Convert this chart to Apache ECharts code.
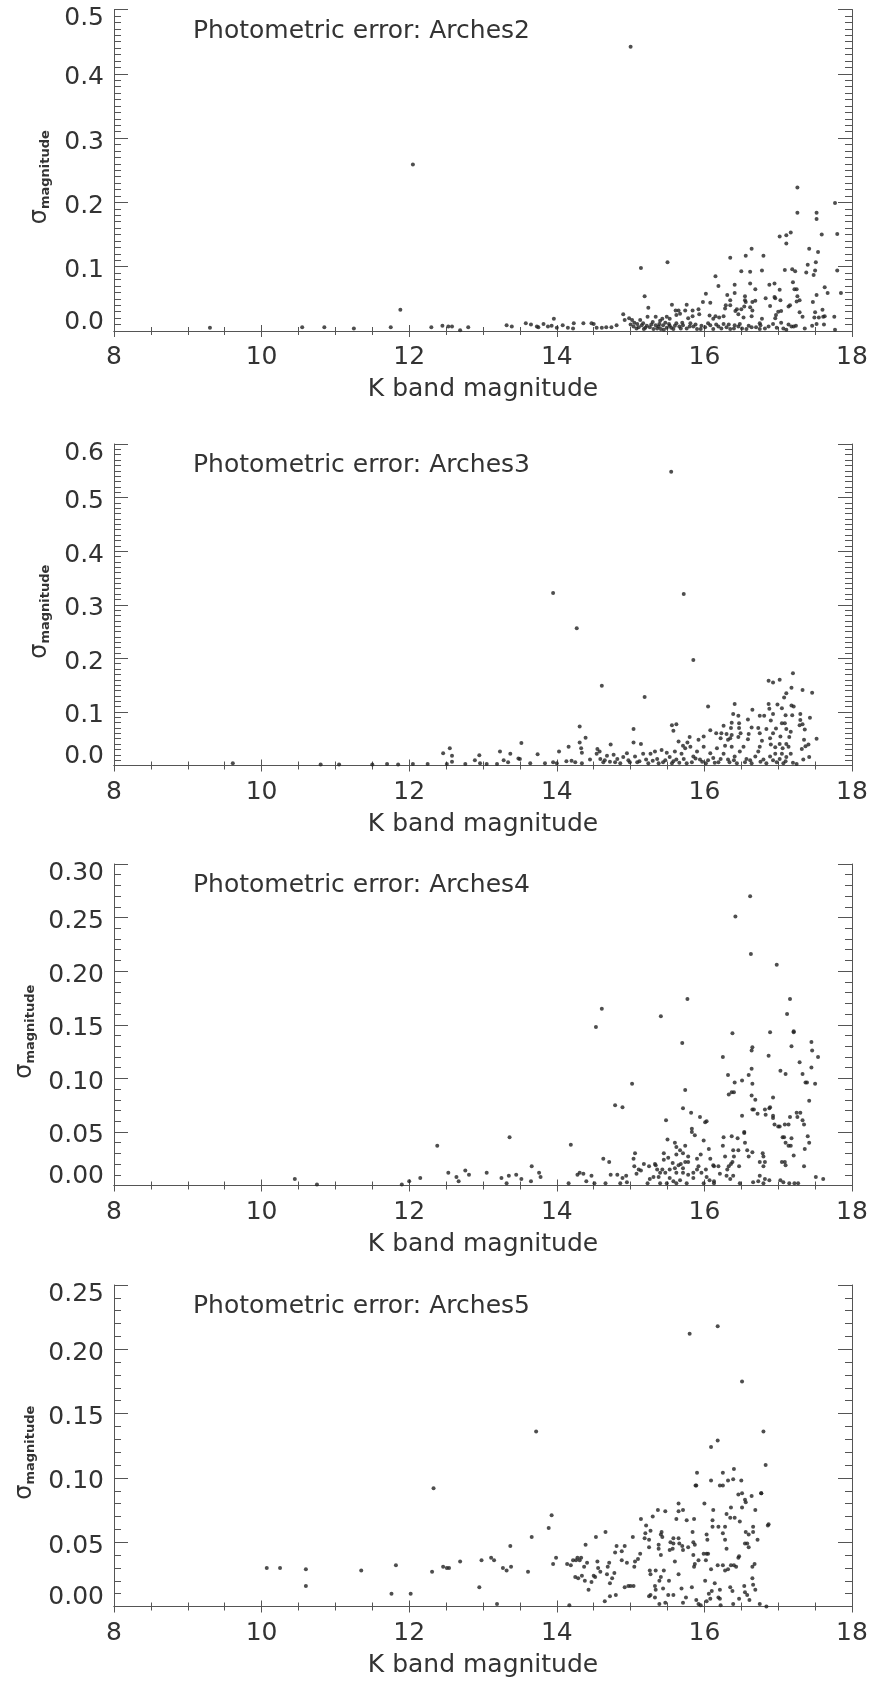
<!DOCTYPE html>
<html>
<head>
<meta charset="utf-8">
<script src="https://cdn.jsdelivr.net/npm/echarts@6/dist/echarts.min.js"></script>
<style>
html,body{margin:0;padding:0;background:#fff;}
#chart{width:871px;height:1686px;}
</style>
</head>
<body>
<div id="chart"></div>
<script>
// ---------------- DATA ----------------
const panelNames = ['Arches2', 'Arches3', 'Arches4', 'Arches5'];
const xTicks = [8, 10, 12, 14, 16, 18];
const yMaxes = [0.5, 0.6, 0.3, 0.25];
const yIntervals = [0.1, 0.1, 0.05, 0.05];
const yDecimals = [1, 1, 2, 2];

const arches2 = [
[9.30,0.005],[10.55,0.006],[10.85,0.006],[11.25,0.004],[11.75,0.006],[11.88,0.033],[12.05,0.259],[12.30,0.006],[12.45,0.008],[15.00,0.442],[17.26,0.223],
[17.77,0.199],[17.26,0.184],[17.52,0.184],[17.52,0.174],[17.59,0.150],[17.80,0.151],[17.02,0.147],[17.11,0.149],[17.17,0.153],[17.11,0.136],[16.64,0.128],[16.56,0.117],[16.80,0.117],[16.35,0.114],[17.42,0.128],[17.54,0.123],[17.40,0.103],[17.51,0.107],[17.38,0.091],[17.50,0.094],[17.48,0.087],[17.80,0.094],[17.85,0.059],[17.63,0.068],[17.67,0.059],[17.52,0.056],[17.47,0.045],[17.09,0.095],[17.19,0.096],[17.23,0.093],[16.78,0.094],[16.62,0.092],[16.50,0.093],[15.50,0.107],[15.14,0.098],[15.19,0.054],[15.24,0.036],[16.15,0.085],[16.19,0.070],[16.41,0.072],[16.41,0.059],[16.31,0.056],[16.62,0.074],[16.69,0.065],[16.88,0.072],[16.95,0.074],[17.20,0.076],[17.22,0.065],[17.25,0.065],[17.26,0.054],[17.29,0.048],[17.25,0.046],[17.02,0.064],[17.03,0.048],[16.95,0.053],[16.96,0.051],[16.83,0.051],[16.89,0.039],[17.16,0.040],[17.14,0.038],[17.00,0.030],[17.29,0.029],[17.33,0.022],[17.50,0.029],[17.60,0.033],[17.61,0.022],[17.63,0.023],[17.76,0.022],[17.49,0.021],[17.55,0.021],[17.52,0.011],[17.62,0.010],[17.77,0.002],[17.46,0.008],[17.24,0.008],[17.18,0.007],[17.11,0.002],[17.04,0.013],[16.96,0.020],[16.97,0.025],[17.04,0.031],[16.78,0.019],[16.75,0.012],[16.76,0.009],[16.65,0.032],[16.55,0.054],[16.55,0.048],[16.56,0.045],[16.65,0.045],[16.69,0.047],[16.54,0.038],[16.62,0.037],[16.64,0.023],[16.53,0.021],[16.50,0.034],[16.44,0.034],[16.46,0.026],[16.42,0.031],[16.35,0.048],[16.35,0.040],[16.29,0.040],[16.28,0.035],[16.26,0.023],[16.20,0.021],[16.15,0.023],[16.12,0.019],[16.07,0.024],[16.08,0.044],[16.02,0.058],[15.98,0.045],[15.92,0.034],[15.93,0.026],[15.84,0.032],[15.76,0.041],[15.74,0.032],[15.65,0.032],[15.61,0.032],[15.56,0.041],[15.62,0.025],[15.67,0.027],[15.78,0.020],[15.84,0.023],[15.49,0.022],[15.53,0.019],[15.43,0.019],[15.34,0.022],[15.40,0.016],[15.23,0.022],[15.13,0.017],[15.09,0.011],[15.02,0.017],[14.98,0.020],[14.90,0.026],[14.92,0.017],[14.81,0.009],[14.74,0.006],[14.67,0.006],[14.61,0.005],[14.54,0.005],[14.50,0.011],[14.47,0.012],[14.36,0.012],[14.23,0.012],[14.22,0.004],[14.15,0.005],[14.08,0.009],[14.00,0.005],[13.96,0.019],[13.93,0.008],[13.88,0.007],[13.82,0.011],[13.75,0.006],[13.73,0.007],[13.65,0.010],[13.58,0.012],[13.39,0.007],[13.32,0.009],[12.80,0.006],[12.69,0.001],[12.58,0.007],[12.53,0.007],
[15.04,0.007],[15.08,0.004],[15.15,0.009],[15.18,0.003],[15.22,0.008],[15.26,0.006],[15.31,0.003],[15.34,0.009],[15.38,0.007],[15.41,0.003],[15.44,0.009],[15.49,0.005],[15.53,0.008],[15.58,0.003],[15.62,0.012],[15.66,0.007],[15.71,0.009],[15.76,0.004],[15.81,0.012],[15.85,0.007],[15.90,0.003],[15.96,0.008],[16.01,0.006],[16.08,0.009],[16.12,0.003],[16.19,0.007],[16.26,0.011],[16.30,0.006],[16.35,0.003],[16.41,0.009],[16.46,0.007],[16.51,0.004],[16.57,0.003],[16.64,0.006],[16.75,0.003],[16.87,0.007],[16.93,0.011],[17.07,0.004],[17.21,0.007],
[15.00,0.010],[15.05,0.013],[15.11,0.006],[15.17,0.012],[15.20,0.005],[15.28,0.010],[15.30,0.014],[15.36,0.004],[15.39,0.011],[15.45,0.002],[15.47,0.013],[15.52,0.011],[15.55,0.005],[15.60,0.008],[15.68,0.004],[15.70,0.013],[15.80,0.007],[15.88,0.010],[15.95,0.003],[16.05,0.012],[16.16,0.010],[16.23,0.004],[16.33,0.010],[16.40,0.004],[16.48,0.011],[16.60,0.008],[16.70,0.006],[16.82,0.004],[16.98,0.005],[17.14,0.010],[17.36,0.004]
];

const arches3 = [
[9.61,0.004],[10.80,0.002],[11.05,0.002],[11.50,0.002],[11.70,0.003],[11.85,0.002],[12.05,0.003],
[13.95,0.322],[15.55,0.548],[15.72,0.320],
[14.27,0.256],[15.85,0.197],[14.61,0.149],[15.19,0.128],[14.31,0.073],[14.39,0.052],[14.31,0.043],[14.33,0.032],[14.34,0.024],
[17.20,0.172],[16.87,0.158],[16.93,0.155],[17.02,0.160],[17.18,0.145],[17.33,0.141],[17.46,0.136],[17.11,0.135],[17.08,0.127],[16.99,0.114],[17.05,0.107],[17.18,0.112],[17.21,0.110],[16.87,0.115],[16.88,0.106],[16.93,0.096],[16.75,0.093],[16.81,0.093],[16.65,0.104],[16.41,0.115],[16.39,0.096],[16.46,0.093],[16.05,0.110],[16.59,0.086],[16.90,0.084],[17.10,0.094],[17.19,0.094],[17.30,0.096],[17.43,0.089],[17.30,0.085],[17.33,0.077],[17.29,0.075],[17.36,0.067],[17.52,0.050],[17.35,0.048],[17.41,0.039],[17.37,0.036],[17.32,0.031],[17.17,0.063],[17.15,0.053],[17.09,0.079],[17.05,0.079],[17.11,0.068],[17.03,0.054],[16.97,0.069],[16.93,0.060],[16.89,0.051],[16.84,0.068],[16.73,0.070],[16.75,0.060],[16.78,0.046],[16.75,0.035],[16.90,0.039],[16.96,0.034],[17.02,0.040],[17.11,0.040],[17.14,0.035],[17.06,0.032],[17.17,0.022],[17.05,0.022],[16.96,0.022],[16.64,0.071],[16.60,0.059],[16.59,0.049],[16.47,0.079],[16.47,0.070],[16.49,0.060],[16.46,0.053],[16.37,0.080],[16.36,0.070],[16.30,0.059],[16.37,0.057],[16.35,0.051],[16.32,0.048],[16.26,0.074],[16.23,0.060],[16.22,0.051],[16.16,0.060],[16.08,0.066],[15.99,0.054],[15.92,0.048],[15.80,0.053],[15.77,0.043],[15.71,0.037],[15.65,0.045],[15.56,0.075],[15.62,0.077],[15.58,0.065],[15.04,0.068],[15.04,0.043],[15.14,0.040],[14.73,0.039],[14.55,0.031],[14.16,0.035],[14.03,0.026],[13.52,0.042],[13.74,0.021],[12.55,0.032],[12.46,0.023],[12.58,0.018],[13.23,0.026],[13.37,0.022],[12.95,0.019],[12.89,0.010],[12.58,0.007],[12.25,0.003],[12.51,0.003],[12.76,0.003],[12.96,0.004],[13.05,0.003],[13.19,0.003],[13.28,0.010],[13.34,0.006],[13.48,0.013],[13.50,0.012],[13.64,0.004],[13.84,0.004],[13.95,0.006],[14.00,0.004],[14.13,0.008],[14.20,0.009],[14.25,0.006],[14.34,0.004],[14.45,0.011],[14.54,0.022],[14.58,0.026],[14.59,0.012],[14.63,0.006],[14.68,0.018],[14.72,0.007],[14.77,0.020],[14.79,0.006],[14.86,0.004],[14.90,0.016],[14.95,0.023],[14.99,0.006],[15.06,0.017],[15.09,0.006],[15.17,0.022],[15.21,0.011],[15.24,0.004],[15.27,0.022],[15.33,0.026],[15.36,0.012],[15.42,0.029],[15.44,0.006],[15.49,0.024],[15.53,0.016],[15.56,0.004],[15.60,0.026],[15.62,0.011],[15.69,0.022],[15.74,0.032],[15.76,0.004],[15.81,0.035],[15.85,0.017],[15.90,0.026],[15.94,0.011],[15.99,0.035],[16.02,0.004],[16.08,0.023],[16.12,0.014],[16.17,0.032],[16.19,0.006],[16.26,0.022],[16.28,0.037],[16.32,0.011],[16.37,0.035],[16.41,0.017],[16.44,0.004],[16.48,0.026],[16.53,0.035],[16.57,0.012],[16.64,0.004],[16.69,0.017],[16.73,0.026],[16.80,0.011],[16.84,0.004],[16.89,0.017],[16.98,0.006],[17.02,0.012],[17.07,0.004],[17.11,0.016],[17.25,0.003],[17.34,0.011],[17.42,0.016],
[14.65,0.010],[14.82,0.012],[14.97,0.010],[15.12,0.008],[15.30,0.009],[15.38,0.004],[15.47,0.010],[15.58,0.008],[15.66,0.005],[15.72,0.012],[15.83,0.006],[15.88,0.013],[15.97,0.007],[16.05,0.010],[16.14,0.005],[16.22,0.012],[16.34,0.006],[16.40,0.010],[16.55,0.006],[16.62,0.010],[16.76,0.007],[16.93,0.010],[17.10,0.008],[17.20,0.005]
];

const arches4 = [
[10.45,0.006],[10.75,0.001],[11.90,0.001],[12.00,0.004],[12.15,0.007],[12.38,0.037],
[16.62,0.270],[16.42,0.251],[16.63,0.216],[16.98,0.206],[15.77,0.174],[14.61,0.165],[14.53,0.148],[15.41,0.158],[17.16,0.174],[17.12,0.160],[17.21,0.144],[17.21,0.143],[17.18,0.130],[15.70,0.133],[16.38,0.142],[16.65,0.129],[16.64,0.126],[17.45,0.134],[17.46,0.126],[17.54,0.120],[17.45,0.110],[17.29,0.115],[17.33,0.104],[17.37,0.096],[17.39,0.096],[17.50,0.095],[17.42,0.079],[16.87,0.121],[16.89,0.143],[17.03,0.107],[17.10,0.104],[16.25,0.120],[16.32,0.103],[16.41,0.096],[16.51,0.098],[16.60,0.103],[16.64,0.109],[16.65,0.095],[16.37,0.087],[16.40,0.087],[16.33,0.085],[16.64,0.084],[16.69,0.080],[16.65,0.071],[16.67,0.071],[16.93,0.082],[16.89,0.073],[16.88,0.072],[16.82,0.071],[16.72,0.067],[16.83,0.066],[16.93,0.065],[16.93,0.063],[16.95,0.057],[17.00,0.055],[17.02,0.055],[17.09,0.057],[17.14,0.057],[17.16,0.064],[17.06,0.045],[17.08,0.045],[17.18,0.044],[17.10,0.040],[17.14,0.037],[17.17,0.037],[17.21,0.028],[17.09,0.022],[17.10,0.019],[17.05,0.022],[17.35,0.018],[17.36,0.034],[17.42,0.040],[17.40,0.046],[17.35,0.057],[17.33,0.061],[17.25,0.068],[17.30,0.068],[17.26,0.064],[17.51,0.008],[17.61,0.006],[17.27,0.002],[17.22,0.002],[17.15,0.002],[17.07,0.003],[17.03,0.005],[16.88,0.005],[16.82,0.006],[16.80,0.002],[16.73,0.004],[16.66,0.003],[16.75,0.009],[16.80,0.018],[16.82,0.022],[16.80,0.027],[16.79,0.030],[16.75,0.022],[16.65,0.031],[16.60,0.027],[16.58,0.033],[16.55,0.040],[16.54,0.049],[16.51,0.065],[16.54,0.050],[16.46,0.033],[16.39,0.033],[16.45,0.044],[16.40,0.027],[16.38,0.022],[16.36,0.020],[16.33,0.018],[16.26,0.045],[16.25,0.037],[16.28,0.027],[16.37,0.046],[16.31,0.015],[16.39,0.009],[16.35,0.006],[16.48,0.002],[16.47,0.018],[16.30,0.009],[16.21,0.011],[16.19,0.018],[16.13,0.018],[16.12,0.019],[16.08,0.025],[16.06,0.034],[16.07,0.005],[16.13,0.004],[16.13,0.002],[15.99,0.002],[16.03,0.008],[16.02,0.015],[15.96,0.012],[15.92,0.018],[15.90,0.015],[15.95,0.029],[15.90,0.025],[15.99,0.042],[15.94,0.064],[16.01,0.059],[16.03,0.060],[15.83,0.053],[15.83,0.050],[15.87,0.047],[15.82,0.068],[15.74,0.089],[15.71,0.072],[15.74,0.037],[15.67,0.033],[15.71,0.030],[15.78,0.027],[15.78,0.022],[15.74,0.022],[15.68,0.020],[15.65,0.019],[15.71,0.016],[15.71,0.012],[15.78,0.010],[15.85,0.012],[15.85,0.007],[15.76,0.002],[15.67,0.005],[15.62,0.012],[15.60,0.016],[15.57,0.021],[15.53,0.015],[15.51,0.026],[15.45,0.030],[15.45,0.024],[15.50,0.043],[15.60,0.040],[15.62,0.036],[15.62,0.029],[15.48,0.061],[15.34,0.019],[15.33,0.020],[15.36,0.015],[15.43,0.015],[15.40,0.012],[15.47,0.012],[15.53,0.007],[15.58,0.004],[15.62,0.002],[15.49,0.002],[15.40,0.002],[15.38,0.008],[15.31,0.008],[15.26,0.006],[15.23,0.002],[15.25,0.018],[15.18,0.020],[15.14,0.014],[15.11,0.015],[15.08,0.011],[15.04,0.025],[15.06,0.030],[15.05,0.018],[15.02,0.095],[14.89,0.073],[14.79,0.075],[14.94,0.009],[14.95,0.003],[14.89,0.007],[14.86,0.002],[14.82,0.010],[14.71,0.022],[14.73,0.010],[14.63,0.025],[14.66,0.002],[14.51,0.002],[14.47,0.009],[14.40,0.004],[14.36,0.011],[14.31,0.012],[14.28,0.010],[14.19,0.038],[14.16,0.002],[13.78,0.008],[13.76,0.012],[13.66,0.018],[13.65,0.004],[13.52,0.006],[13.45,0.010],[13.35,0.009],[13.36,0.045],[13.32,0.002],[13.25,0.007],[13.05,0.012],[12.81,0.010],[12.76,0.014],[12.67,0.004],[12.64,0.008],[12.53,0.012]
];

const arches5 = [
[10.07,0.030],[10.25,0.030],[10.60,0.029],[10.60,0.016],[11.35,0.028],[11.76,0.010],[11.82,0.032],
[15.80,0.212],[16.18,0.218],[16.51,0.175],[13.72,0.136],[12.33,0.092],[16.80,0.136],[16.83,0.110],[16.09,0.124],[16.18,0.129],[15.90,0.104],[15.88,0.094],[15.89,0.094],[16.25,0.104],[16.40,0.107],[16.39,0.099],[16.50,0.098],[16.32,0.098],[16.21,0.094],[16.25,0.094],[16.09,0.098],[16.46,0.087],[16.51,0.088],[16.55,0.083],[16.56,0.081],[16.64,0.086],[16.77,0.088],[16.86,0.063],[16.51,0.077],[16.48,0.066],[16.69,0.075],[16.72,0.052],[16.66,0.062],[16.66,0.058],[16.60,0.056],[16.58,0.049],[16.60,0.046],[16.56,0.058],[16.55,0.049],[16.46,0.038],[16.47,0.039],[16.40,0.032],[16.43,0.031],[16.36,0.032],[16.32,0.029],[16.28,0.028],[16.41,0.069],[16.35,0.069],[16.30,0.072],[16.36,0.077],[16.28,0.062],[16.25,0.057],[16.28,0.052],[16.30,0.045],[16.25,0.032],[16.18,0.032],[16.19,0.062],[16.11,0.067],[16.11,0.062],[16.12,0.075],[16.00,0.080],[16.03,0.056],[16.04,0.052],[16.05,0.041],[16.09,0.029],[16.14,0.018],[16.21,0.013],[16.19,0.007],[16.10,0.012],[16.06,0.010],[16.08,0.006],[16.03,0.004],[16.01,0.020],[15.99,0.041],[16.03,0.041],[16.02,0.036],[15.92,0.036],[15.87,0.033],[15.86,0.031],[15.85,0.040],[15.87,0.048],[15.85,0.050],[15.84,0.058],[15.86,0.068],[15.76,0.067],[15.71,0.075],[15.65,0.074],[15.65,0.080],[15.62,0.068],[15.58,0.053],[15.65,0.053],[15.66,0.049],[15.70,0.047],[15.71,0.044],[15.78,0.046],[15.65,0.025],[15.60,0.035],[15.58,0.049],[15.53,0.044],[15.54,0.050],[15.57,0.045],[15.47,0.074],[15.37,0.075],[15.42,0.058],[15.41,0.056],[15.43,0.054],[15.41,0.040],[15.45,0.028],[15.52,0.020],[15.44,0.014],[15.41,0.023],[15.39,0.020],[15.34,0.013],[15.27,0.009],[15.26,0.028],[15.27,0.025],[15.34,0.028],[15.33,0.016],[15.38,0.048],[15.38,0.045],[15.25,0.052],[15.25,0.046],[15.27,0.059],[15.21,0.063],[15.20,0.057],[15.19,0.053],[15.30,0.070],[15.14,0.068],[15.13,0.041],[15.10,0.037],[15.06,0.035],[15.03,0.054],[15.05,0.031],[14.92,0.047],[14.95,0.034],[14.88,0.043],[14.88,0.036],[14.81,0.047],[14.79,0.042],[14.78,0.026],[14.75,0.022],[14.72,0.018],[14.69,0.031],[14.71,0.034],[14.68,0.025],[14.66,0.058],[14.55,0.035],[14.56,0.030],[14.52,0.023],[14.50,0.024],[14.53,0.054],[14.59,0.027],[14.47,0.019],[14.39,0.048],[14.41,0.034],[14.37,0.031],[14.34,0.024],[14.29,0.022],[14.25,0.023],[14.43,0.013],[14.38,0.020],[14.33,0.038],[14.31,0.036],[14.28,0.038],[14.26,0.036],[14.22,0.036],[14.19,0.032],[14.14,0.033],[13.99,0.038],[13.95,0.033],[13.93,0.071],[13.89,0.061],[13.66,0.054],[13.61,0.027],[13.37,0.047],[13.38,0.031],[13.32,0.028],[13.27,0.030],[13.15,0.036],[13.11,0.038],[12.98,0.036],[12.95,0.015],[13.19,0.002],[12.69,0.035],[12.54,0.030],[12.51,0.030],[12.46,0.031],[12.31,0.027],[12.02,0.010],
[14.17,0.001],[14.65,0.004],[14.72,0.008],[14.80,0.009],[14.92,0.015],[14.97,0.016],[15.00,0.016],[15.04,0.016],[15.25,0.008],[15.33,0.007],[15.39,0.002],[15.47,0.003],[15.51,0.009],[15.58,0.009],[15.69,0.014],[15.71,0.003],[15.75,0.007],[15.83,0.015],[15.89,0.005],[15.92,0.002],[15.95,0.001],[16.21,0.006],[16.22,0.001],[16.35,0.015],[16.38,0.012],[16.39,0.002],[16.47,0.006],[16.54,0.016],[16.55,0.011],[16.58,0.009],[16.61,0.005],[16.65,0.022],[16.66,0.017],[16.69,0.013],[16.65,0.031],[16.68,0.033],[16.75,0.002],[16.84,0.000],[16.87,0.064],[16.77,0.088]
];

// ---------------- CHART ----------------
const FONT = 'DejaVu Sans';
const TXT = '#333';
const AX = '#555';
const datasets = [arches2, arches3, arches4, arches5];
const gridTops = [9.5, 444, 864, 1285];
const gridH = 321.5;

function yFmt(max, dec) {
  return function (v) {
    const s = v.toFixed(dec);
    if (Math.abs(v - max) < 1e-9) return '{t|' + s + '}';
    if (Math.abs(v) < 1e-9) return '{b|' + s + '}';
    return '{n|' + s + '}';
  };
}

const grids = [], xAxes = [], yAxes = [], series = [], titles = [];
for (let i = 0; i < 4; i++) {
  grids.push({ left: 114, right: 19, top: gridTops[i], height: gridH });
  titles.push({
    text: 'Photometric error: ' + panelNames[i],
    left: 193, top: gridTops[i] + 9, padding: 0,
    textStyle: { fontFamily: FONT, fontSize: 25, fontWeight: 'normal', color: TXT }
  });
  const xBase = {
    gridIndex: i, type: 'value', min: xTicks[0], max: xTicks[xTicks.length - 1], interval: xTicks[1] - xTicks[0],
    axisLine: { show: true, lineStyle: { color: AX, width: 1 } },
    axisTick: { show: true, inside: true, length: 6, lineStyle: { color: AX } },
    minorTick: { show: true, splitNumber: 4, length: 4, lineStyle: { color: AX } },
    splitLine: { show: false }
  };
  xAxes.push(Object.assign({}, xBase, {
    position: 'bottom',
    axisLabel: { show: true, fontFamily: FONT, fontSize: 25, color: TXT, margin: 14 },
    name: 'K band magnitude', nameLocation: 'middle', nameGap: 46,
    nameTextStyle: { fontFamily: FONT, fontSize: 25, color: TXT }
  }));
  xAxes.push(Object.assign({}, xBase, { position: 'top', axisLabel: { show: false } }));

  const yBase = {
    gridIndex: i, type: 'value', min: 0, max: yMaxes[i], interval: yIntervals[i],
    axisLine: { show: true, lineStyle: { color: AX, width: 1 } },
    axisTick: { show: true, inside: true, length: 14, lineStyle: { color: AX } },
    minorTick: { show: true, splitNumber: yIntervals[i] > 0.06 ? 10 : 5, length: 7, lineStyle: { color: AX } },
    splitLine: { show: false }
  };
  yAxes.push(Object.assign({}, yBase, {
    position: 'left',
    axisLabel: {
      show: true, showMinLabel: true, showMaxLabel: true,
      fontFamily: FONT, fontSize: 25, color: TXT, margin: 10,
      formatter: yFmt(yMaxes[i], yDecimals[i]),
      rich: {
        n: { fontFamily: FONT, fontSize: 25, color: TXT, padding: [8, 0, 0, 0] },
        t: { fontFamily: FONT, fontSize: 25, color: TXT, padding: [18, 0, 0, 0] },
        b: { fontFamily: FONT, fontSize: 25, color: TXT, padding: [0, 0, 18, 0] }
      }
    },
    name: '{s|σ}{m|magnitude}', nameLocation: 'middle', nameRotate: 90, nameGap: 62,
    nameTextStyle: {
      padding: [0, 14, 0, 0],
      rich: {
        s: { fontFamily: FONT, fontSize: 24, color: TXT },
        m: { fontFamily: FONT, fontSize: 13, fontWeight: 'bold', color: TXT, padding: [12, 0, 0, 0] }
      }
    }
  }));
  yAxes.push(Object.assign({}, yBase, { position: 'right', axisLabel: { show: false } }));

  series.push({
    type: 'scatter', xAxisIndex: 2 * i, yAxisIndex: 2 * i,
    data: datasets[i], symbol: 'circle', symbolSize: 4,
    itemStyle: { color: '#222' }, silent: true
  });
}

const chart = echarts.init(document.getElementById('chart'), null, { renderer: 'canvas' });
chart.setOption({
  backgroundColor: '#fff',
  animation: false,
  title: titles,
  grid: grids,
  xAxis: xAxes,
  yAxis: yAxes,
  series: series
});
</script>
</body>
</html>
